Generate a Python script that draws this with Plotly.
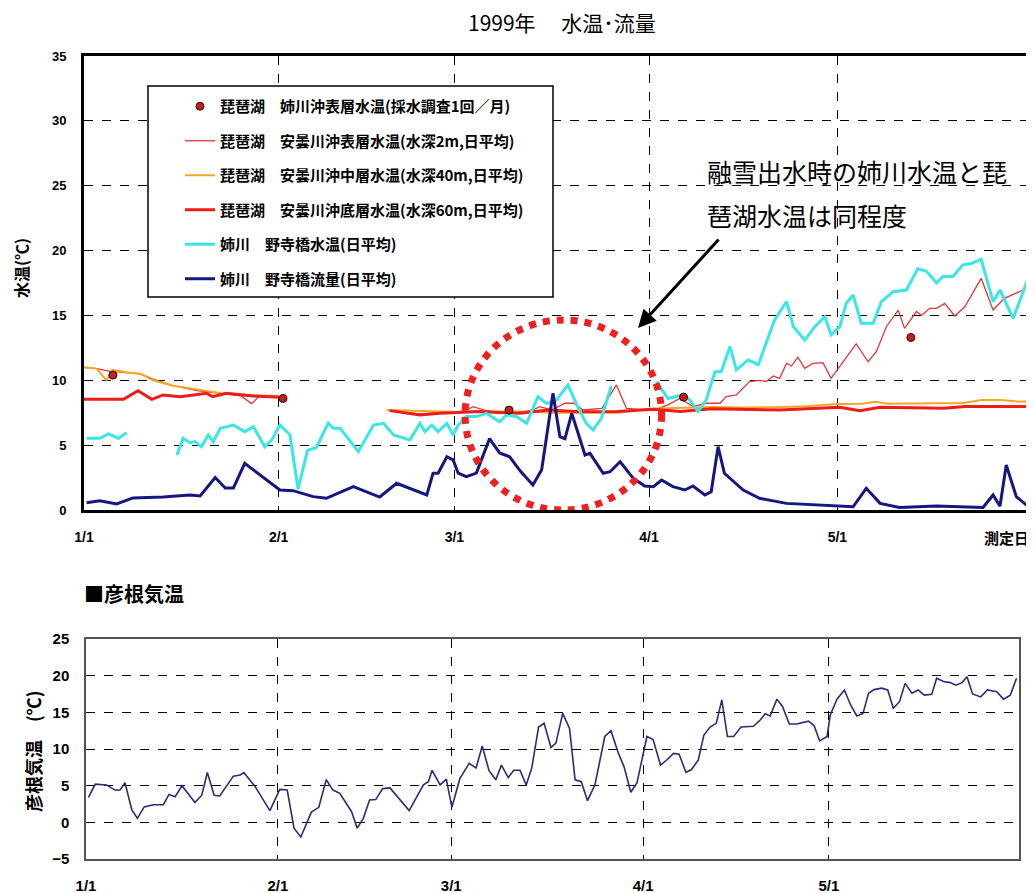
import plotly.graph_objects as go

# x values are days counted from 1/1 (1999)
month_ticks = [0, 31, 59, 90, 120]
month_labels = ["1/1", "2/1", "3/1", "4/1", "5/1"]

# 琵琶湖 姉川沖表層水温 (monthly survey)
survey_day = [4.6, 31.7, 67.7, 95.5, 131.7]
survey_temp = [10.4, 8.6, 7.7, 8.7, 13.3]

# 琵琶湖 安曇川沖表層水温 (2m)
surf_day = [0, 2, 4, 7, 9, 11, 14, 18, 22, 25, 26.7, 28, 31, None,
            48.7, 53.5, 56.7, 59.3, 60.9, 62, 63.6, 66.2, 68.9, 71.5, 72.6, 74.5, 76.6, 78, 79.5,
            82.5, 84.8, 86.4, 89.5, 91.5, 93, 94.9, 95.8, 97, 99.1, 101.3, 102.3, 103.9, 106,
            107.6, 108.7, 109.8, 110.8, 111.9, 112.7, 113.7, 114.8, 116.1, 117.7, 119, 120.4,
            123, 124.9, 126.2, 127.8, 129.7, 130.7, 132.6, 133.4, 134.7, 135.8, 137.1, 138.7,
            140.3, 142.9, 144.8, 146.6, 149.6, 151.2]
surf_temp = [11.0, 10.9, 10.7, 10.6, 10.5, 10.1, 9.6, 9.2, 9.0, 8.8, 8.2, 8.8, 8.8, None,
             7.66, 7.4, 7.5, 7.5, 7.71, 7.97, 7.71, 7.45, 7.45, 7.71, 7.97, 7.71, 8.23, 8.23, 7.71,
             7.84, 9.64, 7.84, 7.71, 7.84, 8.1, 8.6, 8.35, 7.97, 8.23, 8.23, 8.74, 8.87, 9.9,
             10.0, 9.9, 10.33, 10.15, 11.3, 11.1, 11.78, 10.92, 11.3, 11.36, 10.15, 11.1,
             12.8, 11.43, 12.2, 14.13, 15.4, 14.0, 15.3, 15.0, 15.55, 15.55, 15.93, 14.96,
             15.67, 17.86, 15.42, 16.32, 16.96, 17.7]

# 琵琶湖 安曇川沖中層水温 (40m)
mid_day = [0, 2, 3.6, 4.5, 7, 9, 11, 14, 18, 22, 25, 28, 31, None,
           48.2, 55, 60, 65, 70, 75, 80, 85, 90, 95, 100, 105, 110, 115, 120, 124, 126, 128,
           135, 140, 143, 146, 149, 151]
mid_temp = [11.0, 10.9, 10.0, 10.8, 10.6, 10.5, 10.0, 9.6, 9.3, 9.0, 8.9, 8.8, 8.8, None,
            7.7, 7.6, 7.55, 7.6, 7.6, 7.5, 7.5, 7.5, 7.8, 7.9, 7.95, 7.9, 7.92, 8.0, 8.17, 8.2,
            8.35, 8.2, 8.23, 8.25, 8.48, 8.48, 8.35, 8.4]

# 琵琶湖 安曇川沖底層水温 (60m)
deep_day = [0, 6.3, 8.6, 10.8, 12.6, 15.3, 19.5, 20.5, 22.7, 26.9, 31.2, None,
            48.7, 53.5, 56.7, 59.3, 63, 69.4, 74, 79, 85, 90.7, 95, 100, 107.6, 110.8, 120.4,
            123.6, 126.8, 137, 140.3, 151]
deep_temp = [8.53, 8.53, 9.2, 8.53, 8.87, 8.74, 9.0, 8.74, 9.0, 8.79, 8.69, None,
             7.66, 7.32, 7.45, 7.5, 7.6, 7.45, 7.71, 7.58, 7.6, 7.76, 7.6, 7.8, 7.76, 7.71, 7.92,
             7.66, 7.92, 7.84, 7.97, 7.97]

# 姉川 野寺橋水温
river_day = [0.4, 2.5, 3.9, 5.5, 6.8, None,
             14.8, 15.8, 16.9, 17.7, 18.7, 19.8, 20.6, 21.7, 23.8, 25.6, 27, 28.8, 29.9, 31.2,
             32.8, 34.1, 35.6, 37, 38.9, 39.7, 40.8, 43.7, 46.1, 47.7, 49.3, 51.9, 53.5, 54.3,
             55.4, 56.4, 57.8, 58.8, 59.6, 60.9, 62.5, 64.1, 66.2, 67.3, 68.9, 70.5, 72.3, 73.7,
             75.3, 77.1, 78.4, 80, 81.1, 82.4, 84, None,
             91.2, 92.2, 93, 95.4, 96.5, 97.8, 99.1, 100.5, 101.5, 102.9, 103.9, 105.8, 107.4,
             110, 111.9, 113, 114.8, 116.4, 118, 119, 120.4, 121.4, 122.5, 123.8, 125.7, 127,
             128.9, 131, 132.8, 134.2, 135.8, 136.8, 138.4, 140, 141.3, 142.9, 144.8, 145.9,
             148, 149.6, 151.2]
river_temp = [5.53, 5.53, 5.86, 5.53, 5.96, None,
              4.24, 5.53, 5.19, 5.27, 4.88, 5.78, 5.27, 6.3, 6.55, 6.04, 6.42, 4.88, 5.4, 6.55,
              5.8, 1.6, 4.6, 4.8, 6.7, 6.3, 6.3, 4.5, 6.55, 6.68, 5.78, 5.4, 6.68, 6.04,
              6.55, 6.04, 6.68, 5.78, 6.55, 7.2, 7.2, 7.45, 6.8, 7.32, 7.2, 6.68, 8.74, 8.2,
              8.5, 9.64, 8.2, 6.68, 6.17, 7.07, 9.56, None,
              9.9, 9.12, 8.6, 8.87, 8.48, 7.6, 8.48, 10.66, 10.66, 12.6, 10.8, 11.57, 11.2,
              14.65, 16.06, 14.13, 13.1, 14.13, 14.9, 13.5, 14.13, 15.93, 16.58, 14.4, 14.4, 16.06,
              16.83, 16.96, 18.6, 18.4, 17.5, 18.0, 18.0, 18.9, 19.0, 19.33, 16.06, 16.96,
              14.78, 16.83, 19.0]

# 姉川 野寺橋流量
flow_day = [0.4, 2.5, 5.2, 7.8, 12.6, 16.9, 18.5, 20.9, 22.5, 23.8, 25.6, 28, 29.6, 31.2,
            33.3, 36.5, 38.6, 42.9, 47.1, 49.8, 54.6, 55.6, 56.4, 57.8, 58.8, 59.6, 60.9, 62.5,
            64.6, 66.2, 67.8, 69.5, 71.5, 72.9, 74.7, 75.8, 76.6, 77.7, 79.8, 80.6, 82.7, 83.8,
            85.4, 87.5, 89.3, 90.7, 92, 93.8, 95.7, 97, 98.9, 99.9, 101, 102, 105, 107.6, 111.9,
            119.8, 122.5, 124.6, 126.8, 129.9, 135.8, 143.2, 144.8, 145.9, 146.9, 148.5, 150.1, 151]
flow_val = [0.56, 0.72, 0.46, 0.93, 1.0, 1.16, 1.08, 2.5, 1.7, 1.7, 3.6, 2.7, 2.1, 1.54,
            1.49, 1.03, 0.9, 1.8, 1.0, 2.06, 1.16, 2.84, 2.84, 4.1, 3.86, 2.84, 2.57, 2.84,
            5.5, 4.4, 4.1, 3.0, 1.93, 3.1, 9.0, 5.65, 5.5, 7.45, 4.24, 4.37, 2.83, 2.95,
            3.72, 2.44, 1.85, 1.8, 2.31, 1.8, 1.54, 1.85, 1.16, 1.41, 4.88, 2.83, 1.54, 0.9, 0.51,
            0.3, 0.25, 1.67, 0.51, 0.2, 0.3, 0.2, 1.16, 0.3, 3.47, 1.03, 0.39, 0.25]

# 彦根気温
air_day = [0.4, 1.5, 3.3, 4.7, 5.5, 6.3, 7.4, 8.3, 9.4, 10.9, 12.5, 13.4, 14.4, 15.5, 17.6,
           18.7, 19.6, 20.7, 21.6, 23.8, 24.9, 25.5, 27.3, 29.7, 31.3, 32.5, 33.6, 34.7, 36.4,
           37.6, 38.8, 39.9, 41, 42.9, 43.8, 44.8, 45.8, 46.8, 47.9, 49.1, 52.2, 54.5, 55.3,
           55.9, 57.2, 58.2, 59.1, 60.4, 61.9, 63, 64, 65.1, 66.2, 67.1, 68.2, 69.1, 70.1, 71.1,
           72, 73.1, 74, 75.1, 75.9, 77, 78.1, 79, 80, 81, 82.2, 83.8, 84.8, 86, 86.9, 88, 89,
           90.6, 91.6, 92.8, 93.8, 94.9, 95.8, 96.9, 97.8, 98.9, 99.8, 100.8, 101.8, 102.7,
           103.6, 104.6, 105.8, 107.8, 108.9, 109.7, 110.5, 111.6, 112.5, 113.6, 114.8, 116.7,
           117.6, 118.5, 119.7, 120.2, 121.3, 122.5, 123.5, 124.5, 125.5, 126.4, 127.3, 128.5,
           129.5, 130.4, 131.4, 132.3, 133.4, 134.4, 135.4, 136.6, 137.4, 138.5, 139.6, 140.5,
           141.5, 142.3, 143.2, 144.5, 145.6, 147.1, 148.2, 149.3, 150.3]
air_temp = [3.4, 5.2, 5.1, 4.4, 4.4, 5.4, 1.7, 0.55, 2.1, 2.4, 2.4, 3.8, 3.5, 5.0, 2.7,
            3.7, 6.8, 3.7, 3.6, 6.3, 6.45, 6.8, 4.9, 1.6, 4.5, 4.4, -0.8, -2.0, 1.4,
            2.05, 5.8, 4.4, 3.95, 1.45, -0.8, 0.55, 3.05, 3.1, 4.6, 4.7, 1.6, 5.1, 5.55,
            7.1, 5.1, 5.9, 2.05, 6.0, 8.05, 7.4, 10.4, 7.05, 5.8, 7.8, 6.1, 7.1, 7.1, 5.1,
            7.4, 13.0, 13.5, 10.2, 10.8, 14.85, 12.8, 5.8, 5.55, 2.95, 5.1, 11.7, 12.5, 9.4, 7.6, 4.1, 5.4,
            11.7, 11.3, 7.8, 8.5, 9.4, 9.3, 6.8, 7.2, 8.5, 11.9, 13.0, 13.5, 16.7,
            11.7, 11.7, 13.0, 13.1, 13.95, 14.8, 14.5, 16.8, 15.8, 13.4, 13.4, 13.8,
            13.2, 11.1, 11.7, 14.6, 16.8, 18.05, 16.0, 14.5, 14.85, 17.6, 18.1, 18.3,
            18.05, 15.55, 16.45, 18.95, 17.6, 18.05, 17.35, 17.45, 19.65, 19.2, 19.05, 18.7,
            19.05, 19.85, 17.5, 17.1, 18.05, 17.8, 16.8, 17.35, 19.65]

# the page body has an 8px margin, so the figure is shifted by 8px;
# the helpers below take positions measured on the page
OFF = 8
W, H = 1034 - OFF, 893 - OFF
JP = "Noto Sans CJK JP"
NUM = "Liberation Sans"


def px(x):
    return (x - OFF) / W


def py(y):
    return 1 - (y - OFF) / H


fig = go.Figure()

fig.add_trace(go.Scatter(x=surf_day, y=surf_temp, mode="lines",
                         name="琵琶湖　安曇川沖表層水温(水深2m,日平均)", legendgroup="b", legendrank=2,
                         line=dict(color="#e4363a", width=1.3)))
fig.add_trace(go.Scatter(x=mid_day, y=mid_temp, mode="lines",
                         name="琵琶湖　安曇川沖中層水温(水深40m,日平均)", legendgroup="c", legendrank=3,
                         line=dict(color="#f5a623", width=2)))
fig.add_trace(go.Scatter(x=deep_day, y=deep_temp, mode="lines",
                         name="琵琶湖　安曇川沖底層水温(水深60m,日平均)", legendgroup="d", legendrank=4,
                         line=dict(color="#ee1c1c", width=3)))
fig.add_trace(go.Scatter(x=river_day, y=river_temp, mode="lines",
                         name="姉川　野寺橋水温(日平均)", legendgroup="e", legendrank=5,
                         line=dict(color="#3ae6e6", width=3)))
fig.add_trace(go.Scatter(x=flow_day, y=flow_val, mode="lines",
                         name="姉川　野寺橋流量(日平均)", legendgroup="f", legendrank=6,
                         line=dict(color="#161680", width=3)))
fig.add_trace(go.Scatter(x=survey_day, y=survey_temp, mode="markers",
                         name="琵琶湖　姉川沖表層水温(採水調査1回／月)", legendgroup="a", legendrank=1,
                         marker=dict(size=8, color="#c0201c", line=dict(color="#3a0000", width=1))))

fig.add_trace(go.Scatter(x=air_day, y=air_temp, mode="lines", xaxis="x2", yaxis="y2",
                         showlegend=False, line=dict(color="#2b2b7a", width=1.6)))

grid = dict(showgrid=True, gridcolor="black", griddash="dash", gridwidth=1.2,
            automargin=False, zeroline=False, ticks="", ticklabelstandoff=12)

fig.update_layout(
    width=W, height=H,
    margin=dict(l=0, r=0, t=0, b=0, autoexpand=False),
    paper_bgcolor="white", plot_bgcolor="white",
    xaxis=dict(domain=[px(84), px(1032)], range=[0, 151], tickvals=month_ticks,
               ticktext=month_labels, tickfont=dict(family=NUM, size=14, color="black", weight="bold"),
               showline=True, linecolor="black", linewidth=3, mirror=True, **grid),
    yaxis=dict(domain=[py(510), py(56)], range=[0, 35], dtick=5,
               tickfont=dict(family=NUM, size=13, color="black", weight="bold"),
               showline=True, linecolor="black", linewidth=3, mirror=True, **grid),
    xaxis2=dict(domain=[px(86), px(1019)], range=[0, 150.7], anchor="y2", tickvals=month_ticks,
                ticktext=month_labels, tickfont=dict(family=NUM, size=15, color="black", weight="bold"),
                showline=True, linecolor="#555555", linewidth=1.5, mirror=True, **grid),
    yaxis2=dict(domain=[py(859), py(639)], range=[-5, 25], dtick=5, anchor="x2",
                tickfont=dict(family=NUM, size=15, color="black", weight="bold"),
                showline=True, linecolor="#555555", linewidth=1.5, mirror=True, **grid),
    legend=dict(x=px(180), y=py(90), xanchor="left", yanchor="top",
                bgcolor="rgba(0,0,0,0)", borderwidth=0, tracegroupgap=12,
                traceorder="grouped",
                font=dict(family=JP, size=15, color="black", weight="bold")),
    showlegend=True,
)

shapes = [
    dict(type="rect", xref="paper", yref="paper", x0=px(148), x1=px(553), y0=py(297), y1=py(86),
         line=dict(color="black", width=1.5), fillcolor="white", layer="above"),
    dict(type="circle", xref="x", yref="y", x0=60.7, x1=92.0, y0=0, y1=14.65,
         line=dict(color="#ee2020", width=7, dash="dot"), layer="above"),
]
fig.update_layout(shapes=shapes)


def label(text, x, y, size, bold=True, angle=0, xanchor="center"):
    return dict(text=text, x=px(x), y=py(y), xref="paper", yref="paper", showarrow=False,
                xanchor=xanchor, yanchor="middle", textangle=angle,
                font=dict(family=JP, size=size, color="black", weight="bold" if bold else "normal"))


annotations = [
    label("1999年\u3000\u00a0水温･流量", 562, 22, 21, bold=False),
    label("水温(℃)", 21, 268, 16, angle=-90),
    label("測定日", 1031, 537, 15, xanchor="right"),
    label("融雪出水時の姉川水温と琵", 705, 171, 25, bold=False, xanchor="left"),
    label("琶湖水温は同程度", 705, 215, 25, bold=False, xanchor="left"),
    dict(text="", x=px(638), y=py(328), xref="paper", yref="paper", ax=82, ay=-90,
         showarrow=True, arrowhead=2, arrowsize=1.2, arrowwidth=3, arrowcolor="black"),
    label("■彦根気温", 82, 593, 20, xanchor="left"),
    label("彦根気温\u3000(℃)", 33, 751, 18, angle=-90),
]
fig.update_layout(annotations=annotations)

fig.write_html("out.html")
